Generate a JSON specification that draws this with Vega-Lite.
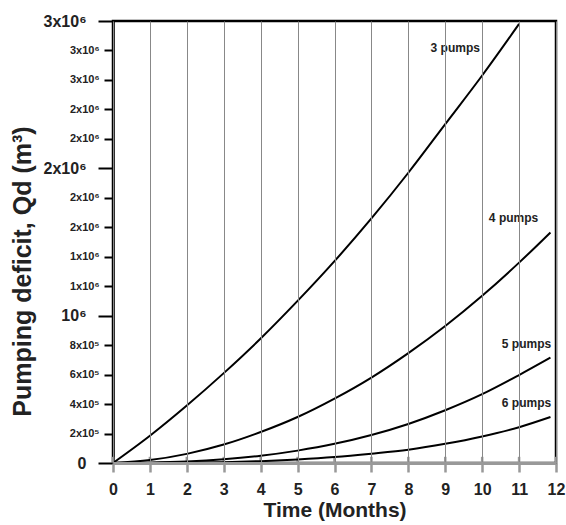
{
  "$schema": "https://vega.github.io/schema/vega-lite/v6.json",
  "width": 443,
  "height": 442,
  "autosize": {"type": "none"},
  "padding": {"left": 113, "top": 21, "right": 10, "bottom": 62},
  "background": "white",
  "config": {
    "view": {"stroke": "black", "strokeWidth": 2.5},
    "font": "Liberation Sans"
  },
  "datasets": {
    "curves": [
      {"series": "3 pumps", "month": 0, "value": 0},
      {"series": "3 pumps", "month": 1, "value": 185000},
      {"series": "3 pumps", "month": 2, "value": 390000},
      {"series": "3 pumps", "month": 3, "value": 610000},
      {"series": "3 pumps", "month": 4, "value": 845000},
      {"series": "3 pumps", "month": 5, "value": 1100000},
      {"series": "3 pumps", "month": 6, "value": 1370000},
      {"series": "3 pumps", "month": 7, "value": 1660000},
      {"series": "3 pumps", "month": 8, "value": 1970000},
      {"series": "3 pumps", "month": 9, "value": 2300000},
      {"series": "3 pumps", "month": 10, "value": 2630000},
      {"series": "3 pumps", "month": 11, "value": 2980000},
      {"series": "4 pumps", "month": 0, "value": 0},
      {"series": "4 pumps", "month": 1, "value": 20000},
      {"series": "4 pumps", "month": 2, "value": 62000},
      {"series": "4 pumps", "month": 3, "value": 125000},
      {"series": "4 pumps", "month": 4, "value": 210000},
      {"series": "4 pumps", "month": 5, "value": 312000},
      {"series": "4 pumps", "month": 6, "value": 437000},
      {"series": "4 pumps", "month": 7, "value": 580000},
      {"series": "4 pumps", "month": 8, "value": 746000},
      {"series": "4 pumps", "month": 9, "value": 930000},
      {"series": "4 pumps", "month": 10, "value": 1135000},
      {"series": "4 pumps", "month": 11, "value": 1360000},
      {"series": "4 pumps", "month": 11.85, "value": 1565000},
      {"series": "5 pumps", "month": 0, "value": 0},
      {"series": "5 pumps", "month": 1, "value": 2500},
      {"series": "5 pumps", "month": 2, "value": 10000},
      {"series": "5 pumps", "month": 3, "value": 25000},
      {"series": "5 pumps", "month": 4, "value": 49000},
      {"series": "5 pumps", "month": 5, "value": 84000},
      {"series": "5 pumps", "month": 6, "value": 130000},
      {"series": "5 pumps", "month": 7, "value": 190000},
      {"series": "5 pumps", "month": 8, "value": 265000},
      {"series": "5 pumps", "month": 9, "value": 358000},
      {"series": "5 pumps", "month": 10, "value": 467000},
      {"series": "5 pumps", "month": 11, "value": 597000},
      {"series": "5 pumps", "month": 11.85, "value": 715000},
      {"series": "6 pumps", "month": 0, "value": 0},
      {"series": "6 pumps", "month": 1, "value": 500},
      {"series": "6 pumps", "month": 2, "value": 2000},
      {"series": "6 pumps", "month": 3, "value": 5500},
      {"series": "6 pumps", "month": 4, "value": 12500},
      {"series": "6 pumps", "month": 5, "value": 24000},
      {"series": "6 pumps", "month": 6, "value": 40000},
      {"series": "6 pumps", "month": 7, "value": 63000},
      {"series": "6 pumps", "month": 8, "value": 90000},
      {"series": "6 pumps", "month": 9, "value": 130000},
      {"series": "6 pumps", "month": 10, "value": 180000},
      {"series": "6 pumps", "month": 11, "value": 243000},
      {"series": "6 pumps", "month": 11.85, "value": 312000}
    ],
    "labels": [
      {"label": "3 pumps", "month": 9.27, "value": 2820000},
      {"label": "4 pumps", "month": 10.85, "value": 1660000},
      {"label": "5 pumps", "month": 11.2, "value": 808000},
      {"label": "6 pumps", "month": 11.2, "value": 407000}
    ],
    "months": [
      {"month": 0}, {"month": 1}, {"month": 2}, {"month": 3}, {"month": 4},
      {"month": 5}, {"month": 6}, {"month": 7}, {"month": 8}, {"month": 9},
      {"month": 10}, {"month": 11}, {"month": 12}
    ]
  },
  "layer": [
    {
      "data": {"name": "months"},
      "mark": {"type": "rule", "color": "#999999", "strokeWidth": 2.5},
      "encoding": {
        "x": {
          "field": "month",
          "type": "quantitative",
          "scale": {"domain": [0, 12], "nice": false},
          "axis": {
            "values": [0, 1, 2, 3, 4, 5, 6, 7, 8, 9, 10, 11, 12],
            "format": "d",
            "tickCount": 30,
            "labelOverlap": false,
            "labelFlush": false,
            "title": "Time (Months)",
            "titleFontSize": 21,
            "titleFontWeight": "bold",
            "titleColor": "#222222",
            "titlePadding": 2,
            "labelFontSize": 16,
            "labelFontWeight": "bold",
            "labelColor": "#222222",
            "labelPadding": 9,
            "grid": true,
            "gridColor": "#888888",
            "gridWidth": 1,
            "domainColor": "#999999",
            "domainWidth": 3,
            "tickColor": "#999999",
            "tickWidth": 2.5,
            "tickSize": 9,
            "zindex": 1
          }
        },
        "y": {"datum": 0, "type": "quantitative"},
        "y2": {"datum": 42000}
      }
    },
    {
      "data": {"name": "curves"},
      "mark": {"type": "line", "color": "black", "strokeWidth": 2, "interpolate": "monotone"},
      "encoding": {
        "x": {"field": "month", "type": "quantitative"},
        "y": {
          "field": "value",
          "type": "quantitative",
          "scale": {"domain": [0, 3000000], "nice": false},
          "axis": {
            "values": [0, 200000, 400000, 600000, 800000, 1000000, 1200000, 1400000, 1600000, 1800000, 2000000, 2200000, 2400000, 2600000, 2800000, 3000000],
            "tickCount": 30,
            "labelOverlap": false,
            "labelFlush": false,
            "labelExpr": "datum.value == 0 ? '0' : datum.value == 200000 ? '2x10⁵' : datum.value == 400000 ? '4x10⁵' : datum.value == 600000 ? '6x10⁵' : datum.value == 800000 ? '8x10⁵' : datum.value == 1000000 ? '10⁶' : datum.value <= 1400000 ? '1x10⁶' : datum.value <= 2400000 ? '2x10⁶' : '3x10⁶'",
            "labelFontSize": {"expr": "(datum.value == 0 || datum.value == 1000000 || datum.value == 2000000 || datum.value == 3000000) ? 16 : 11"},
            "tickSize": {"expr": "(datum.value == 0 || datum.value == 1000000 || datum.value == 2000000 || datum.value == 3000000) ? 15 : 9"},
            "labelPadding": {"expr": "(datum.value == 0 || datum.value == 1000000 || datum.value == 2000000 || datum.value == 3000000) ? 12 : 5"},
            "labelFontWeight": "bold",
            "labelColor": "#222222",
            "title": "Pumping deficit, Qd (m³)",
            "titleFontSize": 25,
            "titleFontWeight": "bold",
            "titleColor": "#222222",
            "titlePadding": 8,
            "titleY": 250,
            "grid": false,
            "domainColor": "black",
            "domainWidth": 2.5,
            "tickColor": "black",
            "tickWidth": 2
          }
        },
        "detail": {"field": "series", "type": "nominal"}
      }
    },
    {
      "data": {"name": "labels"},
      "mark": {"type": "text", "fontSize": 12, "fontWeight": "bold", "color": "#222222", "align": "center", "baseline": "middle"},
      "encoding": {
        "x": {"field": "month", "type": "quantitative"},
        "y": {"field": "value", "type": "quantitative"},
        "text": {"field": "label"}
      }
    }
  ]
}
